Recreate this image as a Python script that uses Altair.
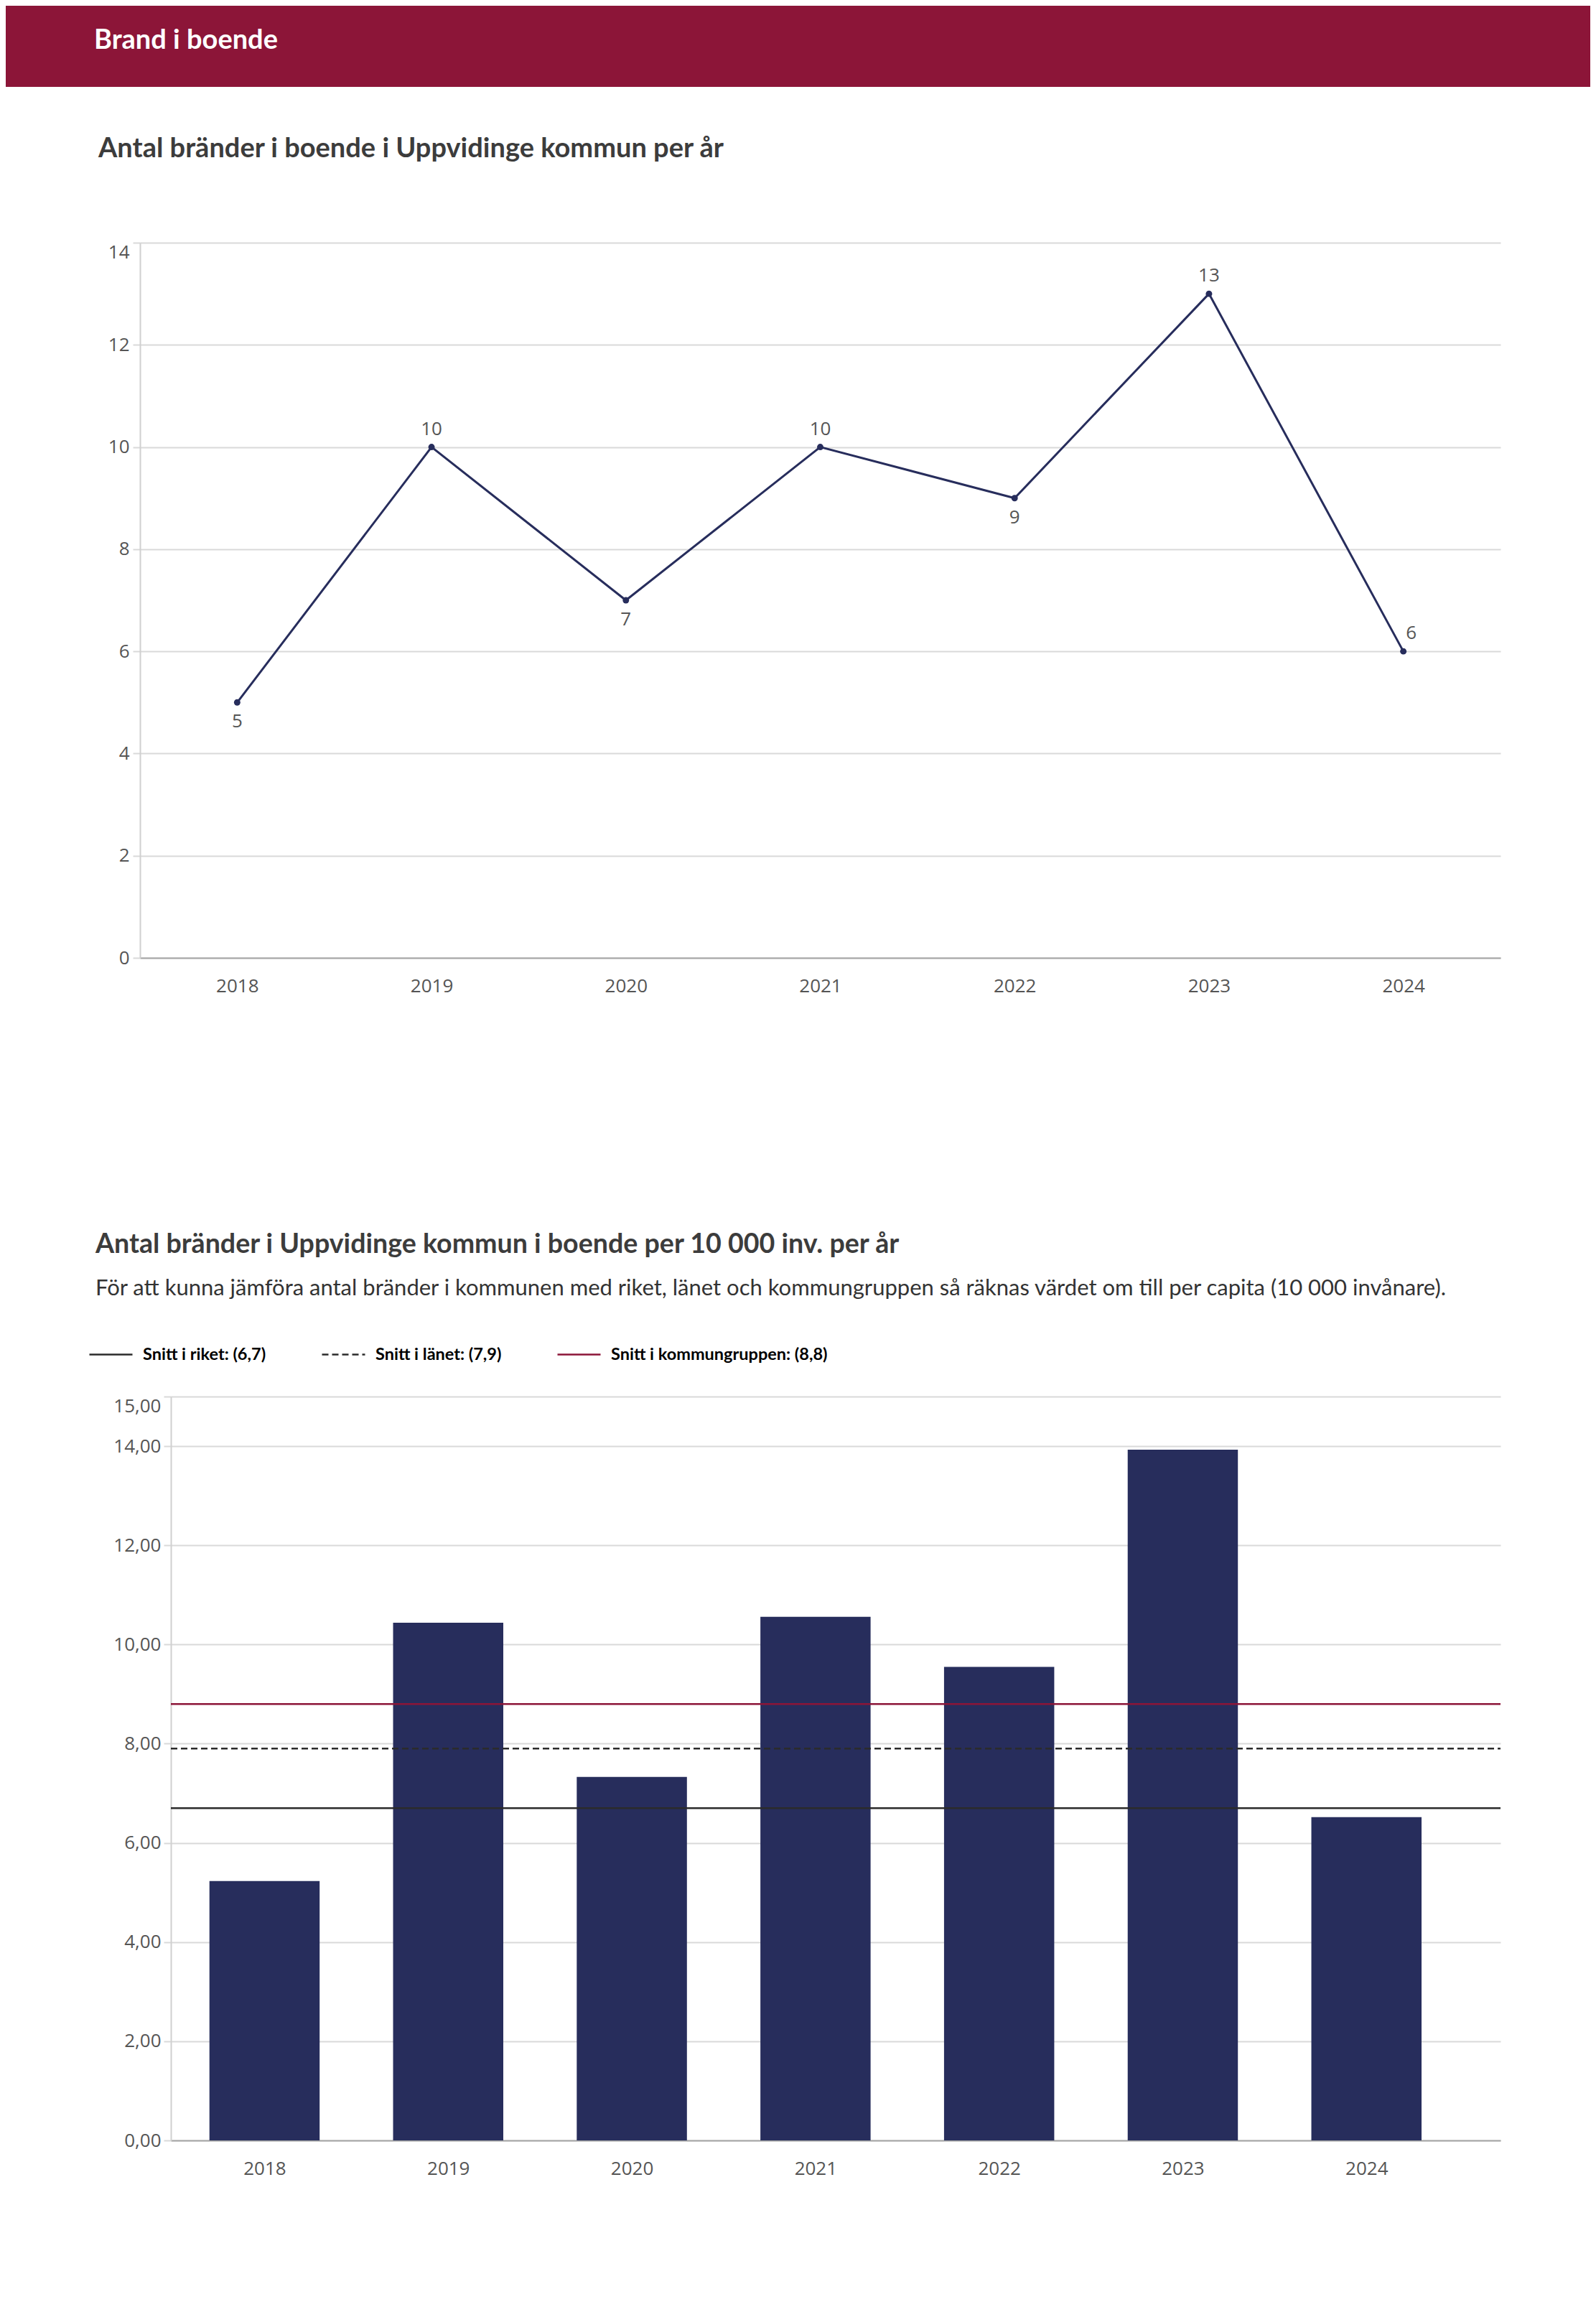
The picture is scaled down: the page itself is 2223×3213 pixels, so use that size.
import altair as alt
import pandas as pd

# ---------------- data ----------------
HEADER = "Brand i boende"
TITLE1 = "Antal bränder i boende i Uppvidinge kommun per år"
TITLE2 = "Antal bränder i Uppvidinge kommun i boende per 10 000 inv. per år"
SUBTITLE2 = ("För att kunna jämföra antal bränder i kommunen med riket, länet och "
             "kommungruppen så räknas värdet om till per capita (10 000 invånare).")

YEARS = [2018, 2019, 2020, 2021, 2022, 2023, 2024]
FIRES = [5, 10, 7, 10, 9, 13, 6]
FIRES_PER_10K = [5.23, 10.44, 7.33, 10.56, 9.55, 13.93, 6.52]

AVG_NAMES = ["Snitt i riket: (6,7)", "Snitt i länet: (7,9)", "Snitt i kommungruppen: (8,8)"]
AVG_VALUES = [6.7, 7.9, 8.8]

Y1_TICKS = [0, 2, 4, 6, 8, 10, 12, 14]
Y2_TICKS = [0, 2, 4, 6, 8, 10, 12, 14, 15]

LABEL_BELOW = [2018, 2020, 2022]
LABEL_RIGHT = [2024]

# ---------------- style ----------------
NAVY = "#272d5c"
WINE = "#8c1538"
GRID = "#d9d9d9"
TXT = "#555555"
TITLE_COLOR = "#3c3c3c"
W = 1895
H1 = 996
H2 = 1036
HEADER_H = 330
GAP = 611
X2_DOMAIN = [2017.49, 2024.73]

# ---------------- header ----------------
hdr_df = pd.DataFrame({"t": [HEADER]})
band = alt.Chart(hdr_df).mark_rect(color=WINE).encode(
    x=alt.value(-187), x2=alt.value(2020), y=alt.value(0), y2=alt.value(113)
)
hdr_text = alt.Chart(hdr_df).mark_text(
    align="left", baseline="middle", font="Lato", fontWeight="bold",
    fontSize=38, color="white"
).encode(x=alt.value(-64), y=alt.value(49), text="t:N")
header = alt.layer(band, hdr_text).properties(width=W, height=HEADER_H)

# ---------------- chart 1 ----------------
df1 = pd.DataFrame({"year": [str(y) for y in YEARS], "fires": FIRES})
df1["pos"] = [
    "right" if y in LABEL_RIGHT else ("below" if y in LABEL_BELOW else "above")
    for y in YEARS
]

x1 = alt.X(
    "year:O",
    scale=alt.Scale(type="point", padding=0.5),
    axis=alt.Axis(title=None, labelAngle=0, ticks=False, tickSize=0, labelPadding=26,
                  domainColor="#a6a6a6", domainWidth=2, grid=False),
)
y1 = alt.Y(
    "fires:Q",
    scale=alt.Scale(domain=[0, 14], nice=False),
    axis=alt.Axis(title=None, values=Y1_TICKS, format="d", tickSize=10,
                  tickColor=GRID, tickWidth=2, gridColor=GRID, gridWidth=2,
                  domainColor="#d0d0d0", domainWidth=2, labelPadding=5,
                  labelBaseline={"condition": {"test": "datum.value == 14", "value": "top"},
                                 "value": "middle"}),
)

line = alt.Chart(df1).mark_line(
    color=NAVY, strokeWidth=3,
    point=alt.OverlayMarkDef(color=NAVY, size=80, filled=True, opacity=1),
).encode(x=x1, y=y1)

def labels(pos, dx, dy):
    return alt.Chart(df1).transform_filter(
        f"datum.pos == '{pos}'"
    ).mark_text(
        font="Open Sans", fontSize=26, color=TXT, dx=dx, dy=dy, baseline="middle"
    ).encode(x=x1, y=y1, text="fires:Q")

chart1 = alt.layer(
    line, labels("above", 0, -25), labels("below", 0, 27), labels("right", 11, -25)
).properties(
    width=W, height=H1,
    title=alt.TitleParams(TITLE1, anchor="start", frame="group", dx=-58, offset=110,
                          font="Lato", fontSize=38, fontWeight="bold", color=TITLE_COLOR),
)

# ---------------- spacer ----------------
spacer = alt.Chart(pd.DataFrame({"v": [0]})).mark_text(text="").encode(
    x=alt.value(0), y=alt.value(0)
).properties(width=W, height=GAP)

# ---------------- chart 2 ----------------
df2 = pd.DataFrame({"year": YEARS, "value": FIRES_PER_10K})
df2["x0"] = df2["year"] - 0.3
df2["x1"] = df2["year"] + 0.3

dfa = pd.DataFrame({"name": AVG_NAMES, "avg": AVG_VALUES})
dfa["xs"] = X2_DOMAIN[0]
dfa["xe"] = X2_DOMAIN[1]

x2_scale = alt.Scale(domain=X2_DOMAIN, range=[43, W], nice=False, zero=False)
x2_axis = alt.Axis(title=None, values=YEARS, format="d", ticks=False, tickSize=0,
                   labelPadding=26, labelFlush=False, domainColor="#a6a6a6",
                   domainWidth=2, grid=False)
y2_scale = alt.Scale(domain=[0, 15], nice=False)
y2_axis = alt.Axis(title=None, values=Y2_TICKS, tickSize=10, tickColor=GRID, tickWidth=2,
                   gridColor=GRID, gridWidth=2, domainColor="#d0d0d0", domainWidth=2,
                   labelPadding=4, offset=-43,
                   labelExpr="replace(format(datum.value, '.2f'), '.', ',')",
                   labelBaseline={"condition": {"test": "datum.value == 15", "value": "top"},
                                  "value": "middle"})

bars = alt.Chart(df2).mark_bar(color=NAVY).encode(
    x=alt.X("x0:Q", scale=x2_scale, axis=x2_axis),
    x2="x1:Q",
    y=alt.Y("value:Q", scale=y2_scale, axis=y2_axis),
    y2=alt.datum(0),
)

leg = alt.Legend(
    title=None, orient="none", legendX=-72, legendY=-90, direction="horizontal",
    symbolType="stroke", symbolSize=3600, symbolStrokeWidth=2.5,
    labelFont="Lato", labelFontWeight="bold", labelFontSize=23.5, labelColor="black",
    labelOffset=13, columnPadding=72, labelLimit=800,
)

rules = alt.Chart(dfa).mark_rule(strokeWidth=2.5).encode(
    x=alt.X("xs:Q", scale=x2_scale, axis=x2_axis),
    x2="xe:Q",
    y=alt.Y("avg:Q", scale=y2_scale, axis=y2_axis),
    color=alt.Color("name:N", scale=alt.Scale(domain=AVG_NAMES,
                    range=["#2b2b2b", "#2b2b2b", WINE]), legend=leg),
    strokeDash=alt.StrokeDash("name:N", scale=alt.Scale(domain=AVG_NAMES,
                    range=[[1, 0], [9, 5], [1, 0]]), legend=leg),
)

chart2 = alt.layer(bars, rules).properties(
    width=W, height=H2,
    title=alt.TitleParams(TITLE2, subtitle=SUBTITLE2, anchor="start", frame="group",
                          dx=-62, offset=45, font="Lato", fontSize=37.6, fontWeight="bold",
                          color=TITLE_COLOR, subtitleFont="Lato", subtitleFontSize=31,
                          subtitleColor="#333333", subtitlePadding=27),
)

chart = alt.vconcat(header, chart1, spacer, chart2, spacing=0, bounds="flush").resolve_legend(
    color="independent", strokeDash="independent"
).properties(
    padding={"left": 0, "top": 0, "right": 0, "bottom": 24}
).configure_view(strokeWidth=0).configure_axis(
    labelFont="Open Sans", labelFontSize=26, labelColor=TXT
)

chart.save("out.html", embed_options={"renderer": "svg", "actions": False})
